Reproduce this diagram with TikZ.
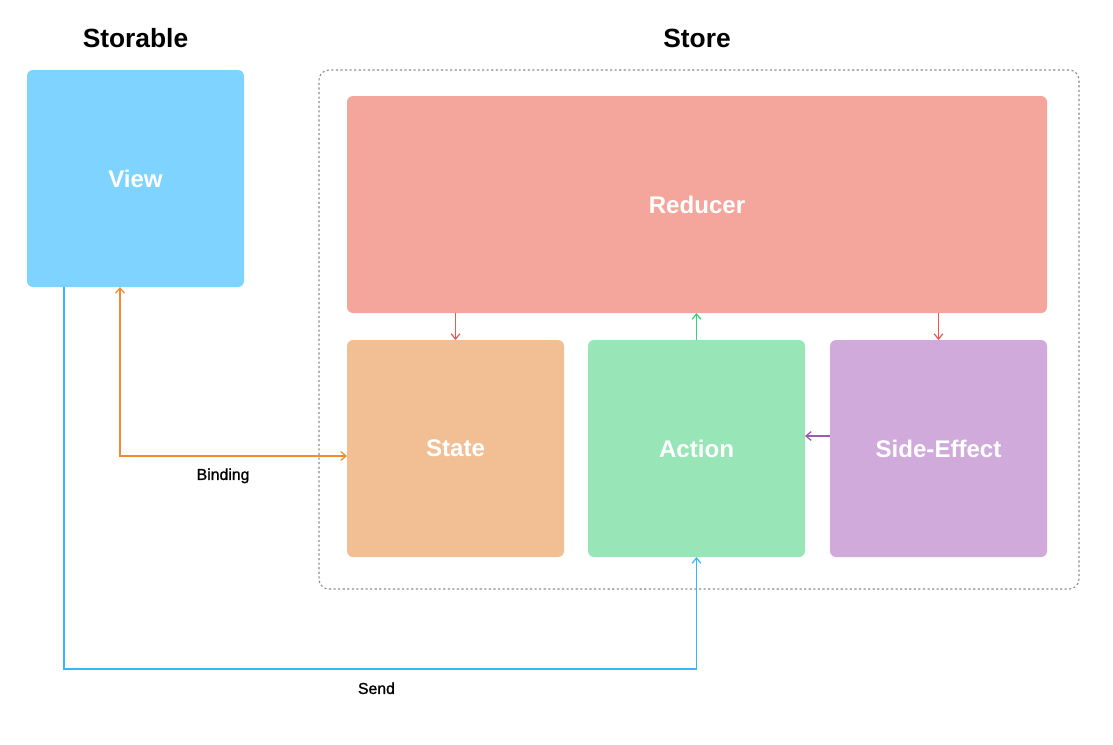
\documentclass[tikz,border=0pt]{standalone}
\usepackage{fontspec}
\setmainfont{Liberation Sans}
\usetikzlibrary{arrows.meta}
\definecolor{viewblue}{HTML}{7FD3FF}
\definecolor{reducerred}{HTML}{F4A59C}
\definecolor{statebeige}{HTML}{F2BF94}
\definecolor{actiongreen}{HTML}{98E6B7}
\definecolor{sidepurple}{HTML}{CFAADB}
\definecolor{redline}{HTML}{EA5A4E}
\definecolor{greenline}{HTML}{3CD07C}
\definecolor{purpleline}{HTML}{9B5BB0}
\definecolor{orangeline}{HTML}{F28A2E}
\definecolor{blueline}{HTML}{33B9F7}
\definecolor{framegray}{HTML}{8A8A8A}
\begin{document}
\begin{tikzpicture}[
	box/.style={rounded corners=0.12cm,inner sep=0pt,outer sep=0pt,minimum width=4.34cm,minimum height=4.34cm,text=white,font=\fontsize{13.7}{16}\selectfont\bfseries},
	title/.style={font=\fontsize{15}{18}\selectfont\bfseries},
	lbl/.style={font=\fontsize{9}{11}\selectfont\addfontfeature{FakeBold=1.2}},
	link/.style={line width=0.7pt,-{Straight Barb[length=3pt,width=5pt]}}
	]
		\useasboundingbox (0,0) rectangle (22.26,-14.88);
		% titles
		\node[title] (storabletitle) at (2.71,-0.76) {Storable};
		\node[title] (storetitle) at (13.94,-0.76) {Store};
		% store frame
		\node[draw=framegray,line width=0.6pt,dash pattern=on 1.2pt off 1.4pt,rounded corners=0.2cm,minimum width=15.2cm,minimum height=10.38cm,inner sep=0pt] (store) at (13.98,-6.59) {};
		% boxes
		\node[box,fill=viewblue] (view) at (2.71,-3.57) {View};
		\node[box,fill=reducerred,minimum width=14cm] (reducer) at (13.94,-4.09) {Reducer};
		\node[box,fill=statebeige] (state) at (9.11,-8.97) {State};
		\node[box,fill=actiongreen] (action) at (13.93,-8.97) {Action};
		\node[box,fill=sidepurple] (sideeffect) at (18.77,-8.97) {Side-Effect};
		% arrows inside the store
		\draw[link,redline] (reducer.south -| state.north) -- (state.north);
		\draw[link,greenline] (action.north) -- (action.north |- reducer.south);
		\draw[link,redline] (reducer.south -| sideeffect.north) -- (sideeffect.north);
		\draw[link,purpleline] ([yshift=0.25cm]sideeffect.west) -- ([yshift=0.25cm]action.east);
		% binding
		\draw[link,{Straight Barb[length=3pt,width=5pt]}-{Straight Barb[length=3pt,width=5pt]},orangeline] ([xshift=-0.31cm]view.south) |- ([yshift=-0.15cm]state.west) node[lbl,text=black,pos=0.727,below=0.12cm] (binding) {Binding};
		% send
		\draw[link,blueline] ([xshift=-1.43cm]view.south) -- ++(0,-7.64) -| (action.south) node[lbl,text=black,pos=0.247,below=0.14cm] (send) {Send};
\end{tikzpicture}
\end{document}
